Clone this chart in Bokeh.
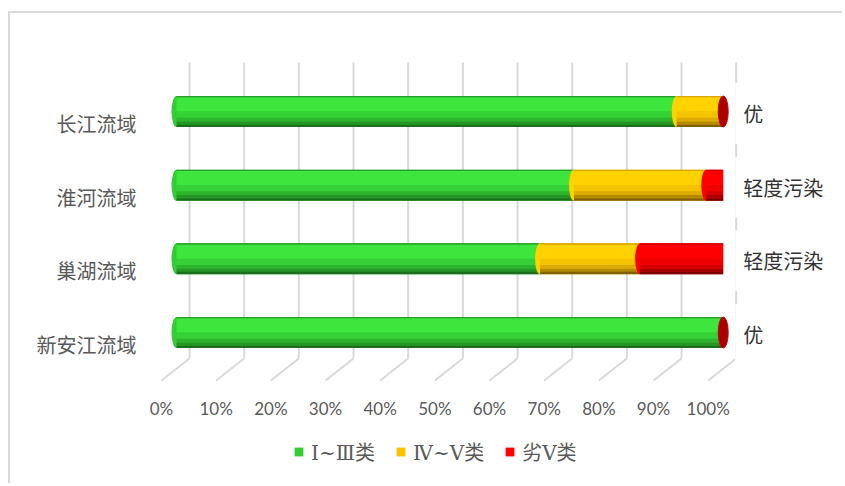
from bokeh.plotting import figure
from bokeh.models import (ColumnDataSource, Range1d, LinearAxis, FixedTicker,
                          Legend, LegendItem)
from bokeh.core.properties import value
from bokeh.embed import file_html
from bokeh.resources import INLINE

# ---------------- data ----------------
categories = ["长江流域", "淮河流域", "巢湖流域", "新安江流域"]
class_1_3 = [91.5, 72.7, 66.5, 100.0]     # Ⅰ~Ⅲ类 (%)
class_4_5 = [8.5, 24.2, 18.3, 0.0]        # Ⅳ~Ⅴ类 (%)
class_bad5 = [0.0, 3.1, 15.2, 0.0]        # 劣Ⅴ类 (%)
status = ["优", "轻度污染", "轻度污染", "优"]
series_names = ["Ⅰ~Ⅲ类", "Ⅳ~Ⅴ类", "劣Ⅴ类"]
x_ticks = [0, 10, 20, 30, 40, 50, 60, 70, 80, 90, 100]
x_tick_labels = [f"{t}%" for t in x_ticks]

# ---------------- layout (page pixels) ----------------
W, H = 834, 472
ORIGIN_X, ORIGIN_Y = 10, 13          # canvas origin on the page (css margin + border)
PX_X, BAR_X0 = 5.467, 176.0
PX_Y, BAR_Y0 = 73.67, 111.0
FRAME_L, FRAME_R, FRAME_T, FRAME_B = 145, 830, 20, ORIGIN_Y + H


def xv(px):
    return (px - BAR_X0) / PX_X


def yv(py):
    return (py - BAR_Y0) / PX_Y


BAR_H = 31 / PX_Y
CJK = value("Noto Sans CJK SC")

p = figure(width=W, height=H,
           x_range=Range1d(xv(FRAME_L), xv(FRAME_R)),
           y_range=Range1d(yv(FRAME_B), yv(FRAME_T)),
           x_axis_location=None, y_axis_location=None,
           output_backend="svg", toolbar_location=None,
           min_border_left=FRAME_L - ORIGIN_X,
           min_border_right=ORIGIN_X + W - FRAME_R,
           min_border_top=FRAME_T - ORIGIN_Y,
           min_border_bottom=0,
           outline_line_color=None, background_fill_color="white",
           border_fill_color="white")
p.styles = {"border-left": "2px solid #d9d9d9", "border-top": "2px solid #d9d9d9",
            "margin-left": "8px", "margin-top": "11px"}

ys, ye = yv(FRAME_B), yv(FRAME_T)
p.extra_y_ranges = {"cat": Range1d(ys - 12 / PX_Y, ye - 12 / PX_Y)}

# ---------------- category axis ----------------
ypos = list(range(len(categories)))
yaxis = LinearAxis(y_range_name="cat", ticker=FixedTicker(ticks=ypos),
                   major_label_overrides={i: c for i, c in zip(ypos, categories)})
yaxis.axis_line_color = None
yaxis.major_tick_line_color = None
yaxis.minor_tick_line_color = None
yaxis.major_label_standoff = 3
yaxis.major_label_text_font = "Noto Sans CJK SC"
yaxis.major_label_text_font_size = "20px"
yaxis.major_label_text_color = "#595959"
p.add_layout(yaxis, "left")

# ---------------- 3D gridlines (back wall + floor) ----------------
back = 13 / PX_X
front = -15 / PX_X
g_top, g_bot, g_front = yv(62), yv(358), yv(380)
gsrc = ColumnDataSource(dict(
    xb=[t + back for t in x_ticks],
    xf=[t + front for t in x_ticks],
    yt=[g_top] * len(x_ticks),
    yb=[g_bot] * len(x_ticks),
    yf=[g_front] * len(x_ticks),
    ylab=[yv(408)] * len(x_ticks),
    lab=x_tick_labels,
))
p.segment(x0="xb", y0="yt", x1="xb", y1="yb", source=gsrc, line_color="#d9d9d9", line_width=2)
p.segment(x0="xb", y0="yb", x1="xf", y1="yf", source=gsrc, line_color="#d9d9d9", line_width=2)
# value-axis tick labels along the front edge of the floor
p.text(x="xf", y="ylab", text="lab", source=gsrc, text_align="center",
       text_baseline="middle", text_font=value("Lato"), text_font_size="17px",
       text_color="#595959")

# ---------------- cylinders ----------------
series = [class_1_3, class_4_5, class_bad5]
legend_cols = ["#33cc33", "#ffc000", "#ff0000"]
bands = [
    [(0.05, "#2a9e2a"), (0.45, "#3de53d"), (0.2, "#36d136"), (0.12, "#2db52d"), (0.1, "#259525"), (0.08, "#1c701c")],
    [(0.05, "#d9a600"), (0.45, "#ffd200"), (0.2, "#f5c400"), (0.12, "#dcaa00"), (0.1, "#b38a00"), (0.08, "#806000")],
    [(0.05, "#cc0000"), (0.45, "#ff0000"), (0.2, "#f00000"), (0.12, "#d40000"), (0.1, "#a80000"), (0.08, "#7a0000")],
]

n = len(categories)
acc = [0.0] * n
lefts, rights = [], []
for vals in series:
    lefts.append(acc[:])
    acc = [a + v for a, v in zip(acc, vals)]
    rights.append(acc[:])
totals = acc

# rounded left end
p.ellipse(x=[0.0] * n, y=ypos, width=10, height=BAR_H, width_units="screen",
          fill_color="#33cc33", line_color=None)

legend_renderers = []
for k, vals in enumerate(series):
    if k > 0:
        idx = [i for i in range(n) if vals[i] > 0 and lefts[k][i] > 0]
        p.ellipse(x=[lefts[k][i] for i in idx], y=[ypos[i] for i in idx], width=10,
                  height=BAR_H, width_units="screen", fill_color=bands[k][1][1], line_color=None)
    data = dict(y=ypos, left=lefts[k], right=rights[k])
    cum = 0.0
    for j, (frac, col) in enumerate(bands[k]):
        data[f"b{j}"] = [y - BAR_H / 2 + (cum + frac / 2) * BAR_H for y in ypos]
        cum += frac
    src = ColumnDataSource(data)
    r = p.hbar(y="y", left="left", right="right", height=BAR_H, source=src,
               fill_color=legend_cols[k], line_color=None)
    legend_renderers.append(r)
    for j, (frac, col) in enumerate(bands[k]):
        p.hbar(y=f"b{j}", left="left", right="right", height=frac * BAR_H * 1.02,
               source=src, fill_color=col, line_color=None)

# end caps of the empty top series
cap_idx = [i for i in range(n) if class_bad5[i] == 0]
p.ellipse(x=[totals[i] for i in cap_idx], y=[ypos[i] for i in cap_idx], width=10,
          height=BAR_H, width_units="screen", fill_color="#a80000", line_color="#d00000",
          line_width=1)

# ---------------- status labels ----------------
lsrc = ColumnDataSource(dict(x=totals, y=ypos, t=status))
p.text(x="x", y="y", text="t", source=lsrc, x_offset=12, y_offset=2,
       text_align="left", text_baseline="middle", text_font=CJK,
       text_font_size="20px", text_color="#333333",
       background_fill_color="white",
       padding=dict(left=8, right=8, top=16, bottom=16))

# ---------------- legend ----------------
legend = Legend(items=[LegendItem(label=nm, renderers=[r]) for nm, r in zip(series_names, legend_renderers)],
                orientation="horizontal", location=(293 - FRAME_L, FRAME_B - 466),
                glyph_width=11, glyph_height=11, label_standoff=7, spacing=20,
                padding=0, margin=0, border_line_color=None, background_fill_alpha=0,
                label_text_font="DejaVu Serif, DejaVu Sans, Noto Sans CJK SC",
                label_text_font_size="20px",
                label_text_color="#595959", label_height=20)
p.add_layout(legend)

p.xgrid.visible = False
p.ygrid.visible = False

open("out.html", "w").write(file_html(p, INLINE))
